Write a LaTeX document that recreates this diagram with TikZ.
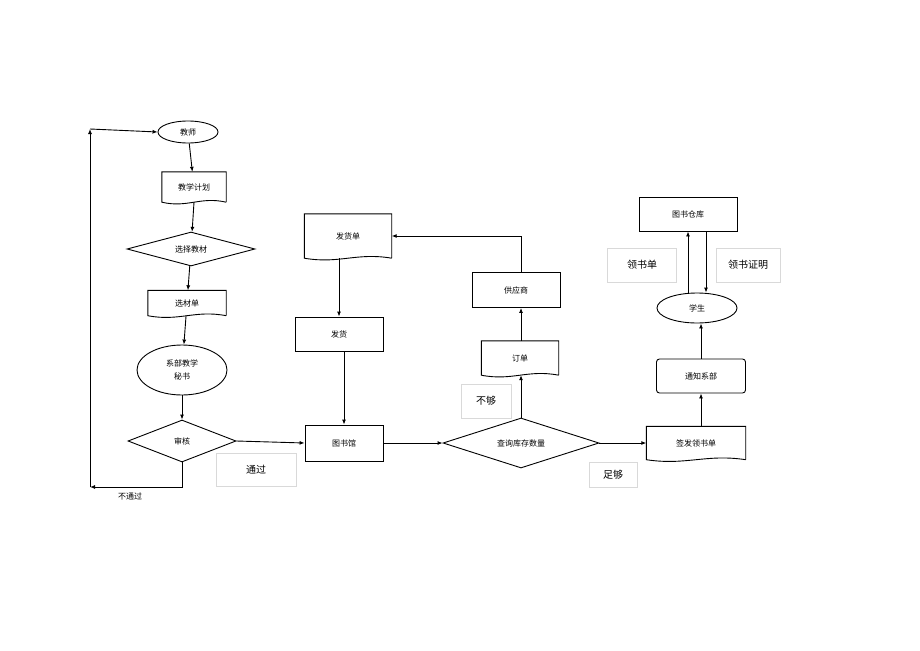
\documentclass[tikz,border=0pt]{standalone}
\usepackage{fontspec}
\setmainfont{Noto Sans CJK SC}
\usetikzlibrary{shapes.geometric,calc,arrows.meta}
\newcommand\docbox[1]{\draw[line width=0.9pt] (#1.south east) -- (#1.north east) -- (#1.north west) -- (#1.south west) .. controls ($(#1.south west)!0.4!(#1.south east)+(0,6)$) and ($(#1.south west)!0.6!(#1.south east)+(0,-6)$) .. (#1.south east);}
\begin{document}
\begin{tikzpicture}[x=1pt,y=-1pt,
  every node/.style={font=\fontsize{8}{9}\selectfont,inner sep=0pt},
  ln/.style={line width=0.9pt},
  ar/.style={ln,-{Latex[length=5pt,width=4pt]}},
  ell/.style={ellipse,draw,line width=0.9pt},
  dia/.style={diamond,draw,line width=0.9pt,aspect=3},
  rbox/.style={rectangle,draw,line width=0.9pt},
  doc/.style={rectangle},
  lbl/.style={rectangle,draw=black!15,font=\fontsize{10}{12}\selectfont}]
\useasboundingbox (0,0) rectangle (920,650);
\node[ell,minimum width=60,minimum height=22] (js) at (188,132) {教师};
\node[doc,minimum width=64,minimum height=30] (jh) at (194,187) {教学计划}; \docbox{jh}
\node[diamond,draw,line width=0.9pt,minimum width=128,minimum height=34,inner sep=0pt,shape aspect=3.7] (xz) at (191,249) {选择教材};
\node[doc,minimum width=78,minimum height=25] (xc) at (187,303) {选材单}; \docbox{xc}
\node[ell,minimum width=90,minimum height=50,align=center] (ms) at (182,370) {系部教学\\[4pt]秘书};
\node[diamond,draw,line width=0.9pt,minimum width=108,minimum height=42,shape aspect=2.6] (sh) at (182,441) {审核};
\coordinate (c1) at (90,487); \coordinate (c2) at (90,129);
\node at (130,496) {不通过};
\node[lbl,minimum width=80,minimum height=33] (tg) at (256,470) {通过};
\node[rbox,minimum width=78,minimum height=36] (tsg) at (344,443) {图书馆};
\node[doc,minimum width=87,minimum height=44] (fhd) at (348,236) {发货单}; \docbox{fhd}
\node[rbox,minimum width=88,minimum height=34] (fh) at (339,334) {发货};
\node[diamond,draw,line width=0.9pt,minimum width=156,minimum height=50,shape aspect=3.1] (cx) at (521,443) {查询库存数量};
\node[lbl,minimum width=50,minimum height=34] (bg) at (486,401) {不够};
\node[doc,minimum width=77,minimum height=34] (dd) at (520,358) {订单}; \docbox{dd}
\node[rbox,minimum width=88,minimum height=35] (gys) at (516,290) {供应商};
\node[lbl,minimum width=48,minimum height=25] (zg) at (613,475) {足够};
\node[doc,minimum width=99,minimum height=33] (qf) at (696,443) {签发领书单}; \docbox{qf}
\node[rbox,rounded corners=3pt,minimum width=89,minimum height=34] (tz) at (701,376) {通知系部};
\node[ell,minimum width=80,minimum height=30] (xs) at (697,308) {学生};
\node[rbox,minimum width=98,minimum height=34] (ck) at (688,214) {图书仓库};
\node[lbl,minimum width=69,minimum height=34] (lsd) at (642,265) {领书单};
\node[lbl,minimum width=64,minimum height=34] (lsz) at (748,265) {领书证明};
\draw[ar] (js) -- (jh);
\draw[ar] (jh.south) ++(0,0) -- (xz);
\draw[ar] (xz) -- (xc);
\draw[ar] (xc) -- (ms);
\draw[ar] (ms) -- (sh);
\draw[ar] (sh.south) |- (c1);
\draw[ar] (c1) -- (c2);
\draw[ar] (c2) -- (js.west);
\draw[ar] (sh.east) -- (tsg.west);
\draw[ar] (fhd.south-|fh.north) -- (fh.north);
\draw[ar] (fh.south-|tsg.north) -- (tsg.north);
\draw[ar] (tsg.east) -- (cx.west);
\draw[ar] (cx.north) -- (dd.south-|cx.north);
\draw[ar] (dd.north-|cx.north) -- (gys.south-|cx.north);
\draw[ar] (gys.north-|cx.north) |- (fhd.east);
\draw[ar] (cx.east) -- (qf.west);
\draw[ar] (qf.north-|tz.south) -- (tz.south);
\draw[ar] (tz.north) -- (xs.south-|tz.north);
\draw[ar] ([xshift=-9pt]xs.north) -- ([xshift=0pt]ck.south);
\draw[ar] ([xshift=18pt]ck.south) -- ([xshift=9pt]xs.north);
\end{tikzpicture}
\end{document}
